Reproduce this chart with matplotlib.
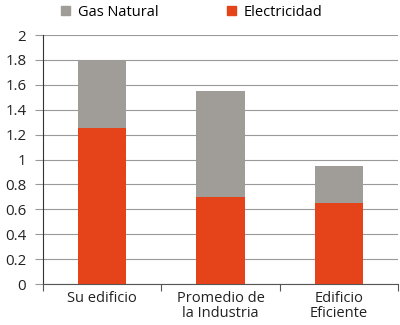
import matplotlib
matplotlib.use("Agg")
import matplotlib.pyplot as plt
from matplotlib.patches import Patch

categories = ["Su edificio", "Promedio de\nla Industria", "Edificio\nEficiente"]
electricidad = [1.25, 0.70, 0.65]
gas_natural = [0.55, 0.85, 0.30]
yticks = [0, 0.2, 0.4, 0.6, 0.8, 1, 1.2, 1.4, 1.6, 1.8, 2]
ytick_labels = ["0", "0.2", "0.4", "0.6", "0.8", "1", "1.2", "1.4", "1.6", "1.8", "2"]

c_elec = "#E5431A"
c_gas = "#A09C98"

plt.rcParams['font.family'] = ['Open Sans', 'DejaVu Sans']

fig = plt.figure(figsize=(4, 3.25), dpi=100)
ax = fig.add_axes([0.1075, 0.126, 0.8875, 0.766])

x = range(len(categories))
ax.bar(x, electricidad, width=0.41, color=c_elec, zorder=3)
ax.bar(x, gas_natural, bottom=electricidad, width=0.41, color=c_gas, zorder=3)

ax.set_xlim(-0.5, 2.5)
ax.set_ylim(0, 2)
ax.set_yticks(yticks)
ax.set_yticklabels(ytick_labels, fontsize=10.8, color="#222222")
ax.set_xticks(list(x))
ax.set_xticklabels(categories, fontsize=10.5, color="#222222", linespacing=1.0)
ax.set_xticks([-0.5, 0.5, 1.5, 2.5], minor=True)
ax.tick_params(axis="x", which="major", length=0, pad=5)
ax.tick_params(axis="x", which="minor", length=5, color="#555555", width=0.8)
ax.tick_params(axis="y", length=6, color="#999999", width=0.8, pad=6)

ax.grid(axis="y", color="#999999", linewidth=0.8, zorder=0)
ax.set_axisbelow(True)
for s in ["top", "right"]:
    ax.spines[s].set_visible(False)
ax.spines["left"].set_color("#333333")
ax.spines["left"].set_linewidth(0.8)
ax.spines["bottom"].set_color("#555555")
ax.spines["bottom"].set_linewidth(0.8)

handles = [Patch(color=c_gas, label="Gas Natural"), Patch(color=c_elec, label="Electricidad")]
fig.legend(handles=handles, loc="upper left", bbox_to_anchor=(0.12, 1.025), ncol=2,
           frameon=False, fontsize=10.5, handlelength=0.6, handleheight=0.6,
           handletextpad=0.55, columnspacing=4.7)

fig.savefig("out.png", dpi=100)
